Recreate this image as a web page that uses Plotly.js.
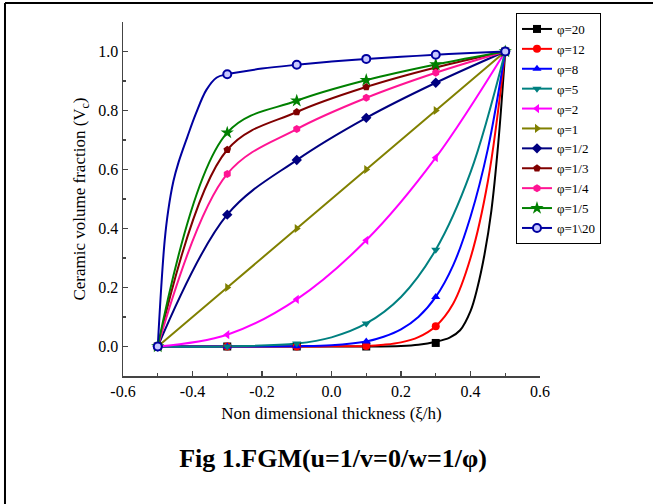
<!DOCTYPE html>
<html>
<head>
<meta charset="utf-8">
<script src="https://cdn.plot.ly/plotly-3.0.1.min.js"></script>
<style>html,body{margin:0;padding:0;background:#fff;}#chart{width:653px;height:504px;}</style>
</head>
<body>
<div id="chart"></div>
<script>
// Marker positions (non-dimensional thickness)
var xi = [-0.5, -0.3, -0.1, 0.1, 0.3, 0.5];

// Series labels
var labels = ["φ=20", "φ=12", "φ=8", "φ=5", "φ=2", "φ=1", "φ=1/2", "φ=1/3", "φ=1/4", "φ=1/5", "φ=1\\20"];

// Marker values (ceramic volume fraction)
var phi20   = [0, 0, 0, 0, 0.012, 1];
var phi12   = [0, 0, 0, 0.002, 0.069, 1];
var phi8    = [0, 0, 0.001, 0.017, 0.168, 1];
var phi5    = [0, 0, 0.010, 0.078, 0.328, 1];
var phi2    = [0, 0.040, 0.160, 0.360, 0.640, 1];
var phi1    = [0, 0.200, 0.400, 0.600, 0.800, 1];
var phi1_2  = [0, 0.447, 0.632, 0.775, 0.894, 1];
var phi1_3  = [0, 0.667, 0.795, 0.880, 0.946, 1];
var phi1_4  = [0, 0.585, 0.737, 0.843, 0.928, 1];
var phi1_5  = [0, 0.725, 0.833, 0.903, 0.956, 1];
var phi1_20 = [0, 0.923, 0.955, 0.975, 0.989, 1];

// Smooth curve points (where the curve bends sharply)
var curveX20 = [-0.5, -0.3, -0.1, 0.1, 0.2, 0.25, 0.3, 0.34, 0.37, 0.40, 0.42, 0.44, 0.46, 0.48, 0.5];
var curveY20 = [0, 0, 0, 0, 0.002, 0.006, 0.016, 0.03, 0.055, 0.12, 0.20, 0.31, 0.46, 0.69, 1];
var curveX12 = [-0.5, -0.3, -0.1, 0, 0.1, 0.15, 0.2, 0.25, 0.3, 0.35, 0.4, 0.45, 0.5];
var curveY12 = [0, 0, 0, 0.0005, 0.002, 0.006, 0.014, 0.032, 0.069, 0.145, 0.30, 0.56, 1];
var curveX8  = [-0.5, -0.3, -0.1, 0, 0.1, 0.15, 0.2, 0.25, 0.3, 0.35, 0.4, 0.45, 0.5];
var curveY8  = [0, 0, 0.001, 0.004, 0.017, 0.033, 0.058, 0.10, 0.168, 0.275, 0.44, 0.67, 1];
var curveX5  = [-0.5, -0.3, -0.1, 0, 0.1, 0.2, 0.3, 0.4, 0.5];
var curveY5  = [0, 0, 0.010, 0.031, 0.078, 0.168, 0.328, 0.59, 1];
var curveX1_20 = [-0.5, -0.49, -0.48, -0.47, -0.455, -0.44, -0.415, -0.39, -0.36, -0.33, -0.3, -0.2, -0.1, 0, 0.1, 0.2, 0.3, 0.4, 0.5];
var curveY1_20 = [0, 0.20, 0.36, 0.46, 0.56, 0.625, 0.71, 0.79, 0.87, 0.912, 0.923, 0.942, 0.955, 0.966, 0.975, 0.982, 0.989, 0.995, 1];

// X tick labels (hyphen minus as in the figure)
var xTickVals = [-0.6, -0.4, -0.2, 0.0, 0.2, 0.4, 0.6];
var xTickText = ["-0.6", "-0.4", "-0.2", "0.0", "0.2", "0.4", "0.6"];

var series = [phi20, phi12, phi8, phi5, phi2, phi1, phi1_2, phi1_3, phi1_4, phi1_5, phi1_20];
var curves = [
  [curveX20, curveY20], [curveX12, curveY12], [curveX8, curveY8], [curveX5, curveY5],
  [xi, phi2], [xi, phi1], [xi, phi1_2], [xi, phi1_3], [xi, phi1_4], [xi, phi1_5],
  [curveX1_20, curveY1_20]
];
var colors = ["#000000", "#FF0000", "#0000FF", "#008080", "#FF00FF", "#808000", "#000080", "#800000", "#FF1493", "#008000", "#0000A0"];
var symbols = ["square", "circle", "triangle-up", "triangle-down", "triangle-left", "triangle-right", "diamond", "pentagon", "hexagon", "star", "circle"];

function markerStyle(i) {
  var isLast = (i === series.length - 1);
  return {
    symbol: symbols[i], size: i === 9 ? 10 : 8,
    color: isLast ? "#c8c8ff" : colors[i],
    line: {color: colors[i], width: isLast ? 2 : 0}
  };
}

var traces = [];
curves.forEach(function (c, i) {
  traces.push({
    x: c[0], y: c[1], type: "scatter", mode: "lines", showlegend: false,
    line: {color: colors[i], width: 2, shape: "spline", smoothing: 1},
    hoverinfo: "skip"
  });
});
series.forEach(function (ys, i) {
  traces.push({
    x: xi, y: ys, type: "scatter", mode: "markers", showlegend: false,
    marker: markerStyle(i), hoverinfo: "skip"
  });
});
// legend entries (line + marker)
labels.forEach(function (lab, i) {
  traces.push({
    x: [null], y: [null], name: lab, type: "scatter", mode: "lines+markers",
    line: {color: colors[i], width: 2}, marker: markerStyle(i), hoverinfo: "skip"
  });
});

var serif = "Liberation Serif";
var layout = {
  width: 653, height: 504,
  margin: {l: 123, r: 113, t: 22, b: 128, autoexpand: false},
  paper_bgcolor: "#fff", plot_bgcolor: "#fff",
  font: {family: serif, size: 16, color: "#000"},
  showlegend: true,
  title: {
    text: "<b>Fig 1.FGM(u=1/v=0/w=1/φ)</b>",
    font: {family: serif, size: 26, color: "#000"},
    xref: "container", yref: "container", x: 0.51, y: 0.091,
    xanchor: "center", yanchor: "middle"
  },
  xaxis: {
    range: [-0.6, 0.6], tickmode: "array", tickvals: xTickVals, ticktext: xTickText,
    ticks: "inside", ticklen: 5, tickwidth: 1.2, tickcolor: "#444",
    minor: {dtick: 0.1, tick0: 0, ticks: "inside", ticklen: 3, tickcolor: "#444"},
    showline: true, linecolor: "#444", linewidth: 1.5,
    showgrid: false, zeroline: false, automargin: false,
    tickfont: {family: serif, size: 16},
    title: {text: "Non dimensional thickness (ξ/h)", font: {family: serif, size: 17}, standoff: 8}
  },
  yaxis: {
    range: [-0.1, 1.1], dtick: 0.2, tick0: 0, tickformat: ".1f",
    ticks: "inside", ticklen: 5, tickwidth: 1.2, tickcolor: "#444",
    minor: {dtick: 0.1, ticks: "inside", ticklen: 3, tickcolor: "#444"},
    showline: true, linecolor: "#444", linewidth: 1.5,
    showgrid: false, zeroline: false, automargin: false,
    tickfont: {family: serif, size: 16},
    title: {text: "Ceramic volume fraction (V<sub>c</sub>)", font: {family: serif, size: 17}, standoff: 8}
  },
  legend: {
    x: 0.9424, y: 1.0254, xanchor: "left", yanchor: "top",
    bgcolor: "#fff", bordercolor: "#000", borderwidth: 1,
    font: {family: serif, size: 13}, itemwidth: 30, tracegroupgap: 0
  },
  shapes: [
    {type: "line", xref: "paper", yref: "paper", x0: -0.283, x1: 1.28, y0: 1.0537, y1: 1.0537, line: {color: "#000", width: 2}},
    {type: "line", xref: "paper", yref: "paper", x0: -0.283, x1: -0.283, y0: 1.0537, y1: -0.37, line: {color: "#000", width: 2}}
  ]
};

Plotly.newPlot("chart", traces, layout, {displayModeBar: false, staticPlot: true});
</script>
</body>
</html>
